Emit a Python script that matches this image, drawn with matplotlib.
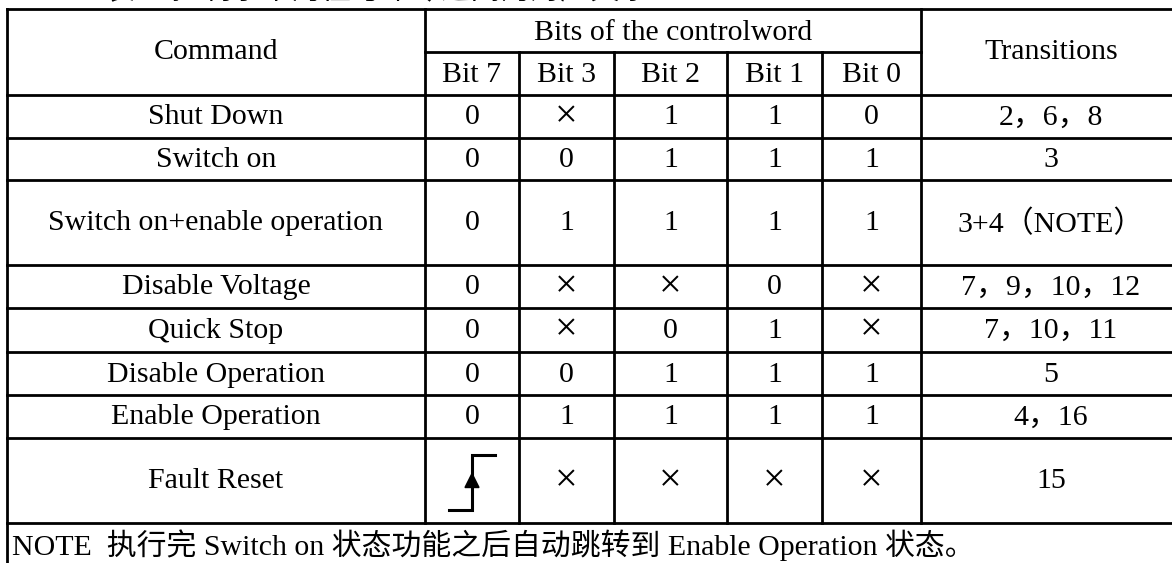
import matplotlib.pyplot as plt
from matplotlib.patches import Polygon

plt.rcParams['font.family'] = ['Liberation Serif', 'Noto Sans CJK SC']

# table content
commands = ["Shut Down", "Switch on", "Switch on+enable operation",
            "Disable Voltage", "Quick Stop", "Disable Operation",
            "Enable Operation", "Fault Reset"]
bit_names = ["Bit 7", "Bit 3", "Bit 2", "Bit 1", "Bit 0"]
bit7 = ["0", "0", "0", "0", "0", "0", "0", "rise"]
bit3 = ["×", "0", "1", "×", "×", "0", "1", "×"]
bit2 = ["1", "1", "1", "×", "0", "1", "1", "×"]
bit1 = ["1", "1", "1", "0", "1", "1", "1", "×"]
bit0 = ["0", "1", "1", "×", "×", "1", "1", "×"]
transitions = ["2，6，8", "3", "3+4（NOTE）", "7，9，10，12",
               "7，10，11", "5", "4，16", "15"]
note = "NOTE  执行完 Switch on 状态功能之后自动跳转到 Enable Operation 状态。"
caption = "表 2  控制字中的位与命令之间的对应关系"

# layout (pixel grid)
W, H = 1172, 563
col_x = [7, 425, 519, 614, 727, 822, 921, 1181]
row_y = [9, 95, 138, 180, 265, 308, 352, 395, 438, 523]
head_mid = 52
lw = 2.0
fs = 21.5

fig = plt.figure(figsize=(W / 100, H / 100), dpi=100)
ax = fig.add_axes([0, 0, 1, 1])
ax.set_xlim(0, W)
ax.set_ylim(H, 0)
ax.axis('off')

# caption above the table, mostly cut off by the top edge as in the scan
ax.text(105, -1, caption, fontsize=fs, ha='left', va='baseline',
        family=['Noto Sans CJK SC'], color='black')

# grid lines
for y in row_y:
    ax.plot([col_x[0], col_x[-1]], [y, y], color='black', lw=lw,
            solid_capstyle='projecting')
ax.plot([col_x[1], col_x[6]], [head_mid, head_mid], color='black', lw=lw)
ax.plot([col_x[0], col_x[0]], [row_y[0], H + 5], color='black', lw=lw)
for i, x in enumerate(col_x[1:-1]):
    top = head_mid if 1 <= i <= 4 else row_y[0]
    ax.plot([x, x], [top, row_y[-1]], color='black', lw=lw)

def cx(i):
    return (col_x[i] + col_x[i + 1]) / 2

# header
ax.text(cx(0), (row_y[0] + row_y[1]) / 2, "Command", fontsize=fs,
        ha='center', va='center')
ax.text((col_x[1] + col_x[6]) / 2, (row_y[0] + head_mid) / 2 + 2,
        "Bits of the controlword", fontsize=fs, ha='center', va='center')
for j, name in enumerate(bit_names):
    ax.text(cx(j + 1), (head_mid + row_y[1]) / 2 + 1, name, fontsize=fs,
            ha='center', va='center')
ax.text(cx(6), (row_y[0] + row_y[1]) / 2, "Transitions", fontsize=fs,
        ha='center', va='center')

# body
cols = [bit7, bit3, bit2, bit1, bit0]
for r, cmd in enumerate(commands):
    yc = (row_y[r + 1] + row_y[r + 2]) / 2 + 1
    ax.text(cx(0), yc, cmd, fontsize=fs, ha='center', va='center')
    for j, col in enumerate(cols):
        v = col[r]
        if v == "rise":
            xc = cx(j + 1)
            ax.plot([xc - 23, xc, xc, xc + 23],
                    [yc + 28, yc + 28, yc - 27, yc - 27],
                    color='black', lw=2.2, solid_joinstyle='miter')
            ax.add_patch(Polygon([[xc - 7, yc + 6], [xc + 7, yc + 6],
                                  [xc, yc - 8]], closed=True,
                                 color='black'))
        elif v == "×":
            ax.text(cx(j + 1), yc, v, fontsize=fs * 1.35, ha='center',
                    va='center', fontweight='light')
        else:
            ax.text(cx(j + 1), yc, v, fontsize=fs, ha='center', va='center')
    ax.text(cx(6), yc, transitions[r], fontsize=fs, ha='center', va='center')

ax.text(12, 545, note, fontsize=fs, ha='left', va='center')

fig.savefig("out.png", dpi=100)
